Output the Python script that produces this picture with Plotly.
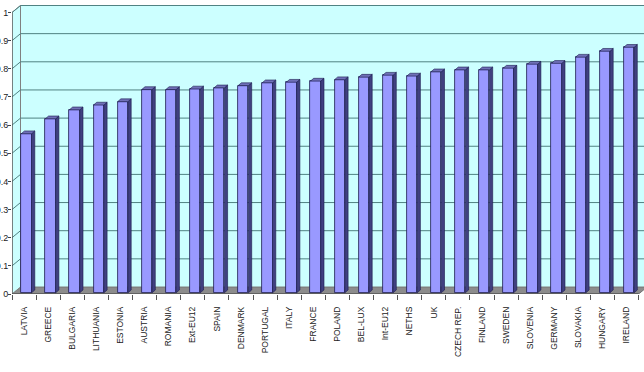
import plotly.graph_objects as go

countries = ["LATVIA", "GREECE", "BULGARIA", "LITHUANIA", "ESTONIA", "AUSTRIA", "ROMANIA",
             "Ext-EU12", "SPAIN", "DENMARK", "PORTUGAL", "ITALY", "FRANCE", "POLAND",
             "BEL-LUX", "Int-EU12", "NETHS", "UK", "CZECH REP.", "FINLAND", "SWEDEN",
             "SLOVENIA", "GERMANY", "SLOVAKIA", "HUNGARY", "IRELAND"]
values = [0.565, 0.618, 0.650, 0.667, 0.679, 0.722, 0.722,
          0.724, 0.728, 0.736, 0.746, 0.748, 0.752, 0.757,
          0.766, 0.773, 0.770, 0.785, 0.792, 0.792, 0.798,
          0.812, 0.815, 0.837, 0.858, 0.872]
y_ticks = [0, 0.1, 0.2, 0.3, 0.4, 0.5, 0.6, 0.7, 0.8, 0.9, 1]
y_ticktext = ["0", "0.1", "0.2", "0.3", "0.4", "0.5", "0.6", "0.7", "0.8", "0.9", "1"]

# pixel scale helpers (plot area geometry)
PX_X = 24.1      # px per category
PX_Y = 281.5     # px per value unit
n = len(countries)
idx = list(range(n))

# 3D offsets in data units
WDX, WDY = 8.5 / PX_X, 7.0 / PX_Y       # wall depth
BOX, BOY = 2.3 / PX_X, 1.2 / PX_Y       # bar front offset
BW = 10.3 / PX_X                        # bar width
BDX, BDY = 3.3 / PX_X, 2.8 / PX_Y       # bar depth

WALL = "#CCFFFF"
GRID = "#508282"
EDGE = "#808080"
FRONT = "#9999FF"
SIDE = "#404080"
TOP = "#7070B8"
OUT = "#1a1a4d"

fig = go.Figure()
fig.add_trace(go.Bar(
    x=idx, y=values, base=BOY, width=BW, offset=-BW / 2 + BOX,
    marker=dict(color=FRONT, line=dict(color=OUT, width=0.8)),
    hoverinfo="skip", showlegend=False))

shapes = []
xl, xr = -0.5, n - 0.5
# floor
shapes.append(dict(type="path", layer="below",
                   path=f"M{xl},0 L{xr},0 L{xr+WDX},{WDY} L{xl+WDX},{WDY} Z",
                   xref="x", yref="y", fillcolor="#8C8C8C", line=dict(color="#707070", width=1)))
# back wall
shapes.append(dict(type="rect", layer="below", xref="x", yref="y",
                   x0=xl + WDX, x1=xr + WDX, y0=WDY, y1=1 + WDY,
                   fillcolor=WALL, line=dict(color=EDGE, width=1)))
# side wall
shapes.append(dict(type="path", layer="below", xref="x", yref="y",
                   path=f"M{xl},0 L{xl},1 L{xl+WDX},{1+WDY} L{xl+WDX},{WDY} Z",
                   fillcolor=WALL, line=dict(color=EDGE, width=1)))
# gridlines
for v in y_ticks[1:]:
    shapes.append(dict(type="line", layer="below", xref="x", yref="y",
                       x0=xl + WDX, x1=xr + WDX, y0=v + WDY, y1=v + WDY,
                       line=dict(color=GRID, width=1)))
    shapes.append(dict(type="line", layer="below", xref="x", yref="y",
                       x0=xl, x1=xl + WDX, y0=v, y1=v + WDY,
                       line=dict(color=GRID, width=1)))
# front axis lines
shapes.append(dict(type="line", xref="x", yref="y", x0=xl, x1=xl, y0=0, y1=1,
                   line=dict(color="#444444", width=1)))
shapes.append(dict(type="line", xref="x", yref="y", x0=xl, x1=xr, y0=0, y1=0,
                   line=dict(color="#444444", width=1)))
# bar side and top faces
for i, v in zip(idx, values):
    x0 = i - BW / 2 + BOX
    x1 = x0 + BW
    b = BOY
    t = BOY + v
    shapes.append(dict(type="path", xref="x", yref="y",
                       path=f"M{x1},{b} L{x1+BDX},{b+BDY} L{x1+BDX},{t+BDY} L{x1},{t} Z",
                       fillcolor=SIDE, line=dict(color=OUT, width=0.6)))
    shapes.append(dict(type="path", xref="x", yref="y",
                       path=f"M{x0},{t} L{x0+BDX},{t+BDY} L{x1+BDX},{t+BDY} L{x1},{t} Z",
                       fillcolor=TOP, line=dict(color=OUT, width=0.6)))

fig.update_layout(
    width=644, height=372,
    margin=dict(l=12, r=0, t=5, b=78, autoexpand=False),
    paper_bgcolor="white", plot_bgcolor="white",
    shapes=shapes,
    font=dict(family="Liberation Sans, Arial, sans-serif", color="#222222"),
    xaxis=dict(range=[-0.5, -0.5 + 632 / PX_X], tickmode="array", tickvals=idx,
               ticktext=countries, tickangle=-90, ticks="", showgrid=False,
               zeroline=False, showline=False, automargin=False,
               tickfont=dict(size=8.5), ticklabelstandoff=10,
               minor=dict(tickmode="array", tickvals=[i - 0.5 for i in range(n + 1)],
                          ticks="outside", ticklen=5, tickcolor="#555555", showgrid=False)),
    yaxis=dict(range=[0, 289 / PX_Y], tickmode="array", tickvals=y_ticks,
               ticktext=y_ticktext, ticks="outside", ticklen=3, tickcolor="#444444",
               showgrid=False, zeroline=False, showline=False, automargin=False,
               tickfont=dict(size=9), ticklabelstandoff=-2),
    bargap=0,
)

fig.write_html("out.html")
